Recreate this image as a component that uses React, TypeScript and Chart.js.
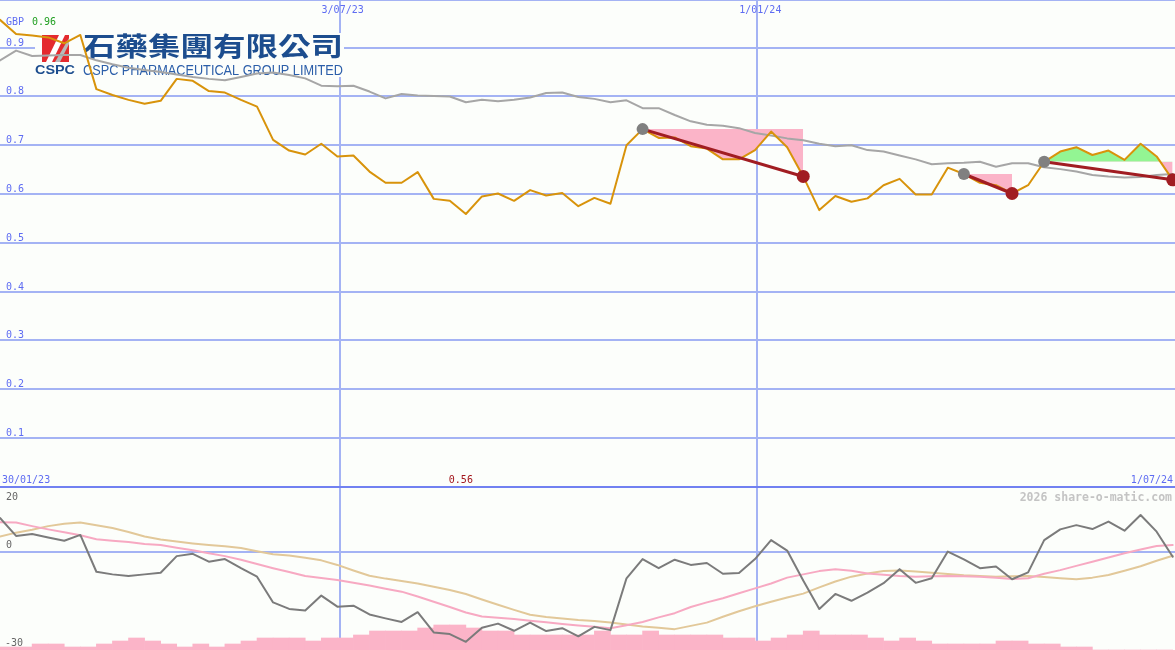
import React, { useEffect, useRef } from "react";
import { Chart, registerables } from "chart.js";

Chart.register(...registerables);

const WIDTH = 1175;
const HEIGHT = 650;

// ---- axis / label data ----
const FIRST_WEEK_DAY = 6; // days after 30/01/23 of the first weekly point
const LAST_DAY = 518;
const DATE_LABELS = ["30/01/23", "3/07/23", "1/01/24", "1/07/24"];
const DATE_DAYS = [0, 154, 336, 518];
const PRICE_TICKS = [0.1, 0.2, 0.3, 0.4, 0.5, 0.6, 0.7, 0.8, 0.9];
const IND_TICKS = [20, 0, -30];
const CURRENCY = "GBP";
const WATERMARK = "2026 share-o-matic.com";
const LOGO_CN = "石藥集團有限公司";
const LOGO_EN = "CSPC PHARMACEUTICAL GROUP LIMITED";
const LOGO_SHORT = "CSPC";

// ---- series (weekly) ----
const PRICE = [
  0.957, 0.928, 0.925, 0.921, 0.909, 0.926, 0.815, 0.803, 0.793, 0.785,
  0.791, 0.836, 0.832, 0.811, 0.808, 0.793, 0.779, 0.711, 0.689, 0.681,
  0.703, 0.677, 0.679, 0.646, 0.623, 0.623, 0.645, 0.59, 0.586, 0.559,
  0.595, 0.601, 0.586, 0.608, 0.597, 0.602, 0.575, 0.592, 0.58, 0.7,
  0.733, 0.715, 0.716, 0.698, 0.693, 0.671, 0.671, 0.69, 0.728, 0.696,
  0.636, 0.567, 0.596, 0.584, 0.591, 0.618, 0.631, 0.599, 0.599, 0.654,
  0.641, 0.623, 0.618, 0.601, 0.618, 0.666, 0.687, 0.696, 0.68, 0.689,
  0.67, 0.703, 0.677, 0.629,
];

const MOVING_AVG = [
  0.874, 0.894, 0.883, 0.884, 0.885, 0.885, 0.874, 0.866, 0.859, 0.854,
  0.85, 0.845, 0.84, 0.836, 0.833, 0.84, 0.847, 0.849, 0.844, 0.837,
  0.822, 0.821, 0.822, 0.81, 0.796, 0.805, 0.802, 0.801, 0.8, 0.788,
  0.793, 0.79, 0.793, 0.798, 0.807, 0.808, 0.799, 0.795, 0.788, 0.792,
  0.776, 0.776, 0.762, 0.749, 0.742, 0.74, 0.735, 0.725, 0.72, 0.714,
  0.71, 0.703, 0.698, 0.7, 0.69, 0.687, 0.679, 0.671, 0.661, 0.663,
  0.664, 0.666, 0.656, 0.663, 0.663, 0.655, 0.651, 0.646, 0.639, 0.636,
  0.634, 0.635, 0.639, 0.641,
];

// [start week, end week] of trend annotations
const TRENDS = [
  [40, 50],
  [60, 63],
  [65, 73],
];

const MOMENTUM = [
  10.5, 5.0, 5.6, 4.5, 3.5, 5.3, -6.0, -6.8, -7.3, -6.8,
  -6.3, -1.2, -0.5, -2.9, -2.1, -4.9, -7.5, -15.4, -17.4, -17.9,
  -13.3, -16.7, -16.4, -19.1, -20.3, -21.4, -18.4, -24.6, -25.1, -27.5,
  -23.2, -21.9, -24.1, -21.6, -24.2, -23.3, -25.8, -22.9, -23.9, -8.0,
  -2.1, -4.9, -2.3, -3.9, -3.3, -6.6, -6.4, -2.1, 3.7, 0.5,
  -8.7, -17.4, -12.8, -14.9, -12.4, -9.5, -5.2, -9.4, -8.0, 0.2,
  -2.2, -4.9, -4.4, -8.3, -6.2, 3.7, 7.0, 8.3, 7.1, 9.4,
  6.6, 11.4, 6.3, -1.4,
];

const SIGNAL_FAST = [
  9.2, 9.1, 8.0, 7.0, 6.1, 5.2, 4.0, 3.5, 3.1, 2.5,
  2.2, 1.4, 0.6, -0.3, -1.2, -2.3, -3.6, -4.9, -6.1, -7.3,
  -7.9, -8.5, -9.4, -10.2, -11.2, -12.1, -13.6, -15.2, -16.8, -18.5,
  -19.7, -20.1, -20.5, -21.0, -21.5, -22.0, -22.5, -22.9, -23.3, -22.4,
  -21.4, -20.0, -18.7, -16.8, -15.4, -14.1, -12.6, -11.1, -9.6, -7.8,
  -6.8, -5.8, -5.2, -5.7, -6.5, -6.9, -7.3, -7.5, -7.4, -7.3,
  -7.4, -7.5, -7.8, -8.2, -8.0, -6.6, -5.5, -4.2, -2.9, -1.6,
  -0.3, 0.8, 1.9, 2.2,
];

const SIGNAL_SLOW = [
  4.8, 6.0, 6.9, 8.0, 8.7, 9.1, 8.3, 7.4, 6.2, 4.8,
  3.9, 3.3, 2.7, 2.2, 1.8, 1.3, 0.3, -0.6, -1.0, -1.7,
  -2.5, -3.9, -5.6, -7.2, -8.1, -8.8, -9.6, -10.6, -11.6, -12.8,
  -14.5, -16.1, -17.7, -19.2, -19.9, -20.3, -20.8, -21.1, -21.6, -22.2,
  -22.8, -23.2, -23.6, -22.6, -21.6, -19.8, -18.1, -16.6, -15.2, -13.9,
  -12.7, -10.8, -9.0, -7.5, -6.5, -5.8, -5.6, -5.9, -6.3, -6.7,
  -7.1, -7.3, -7.5, -7.4, -7.3, -7.6, -8.0, -8.3, -7.8, -7.0,
  -5.7, -4.3, -2.6, -1.1,
];

// weekly volume (relative units), one bar between consecutive weekly points
const VOLUME = [
  3, 3, 6, 6, 3, 3, 6, 9, 12, 9,
  6, 3, 6, 3, 6, 9, 12, 12, 12, 9,
  12, 12, 15, 19, 19, 19, 22, 25, 25, 22,
  19, 19, 15, 15, 15, 15, 15, 19, 15, 15,
  19, 15, 15, 15, 15, 12, 12, 9, 12, 15,
  19, 15, 15, 15, 12, 9, 12, 9, 6, 6,
  6, 6, 9, 9, 6, 6, 3, 3, 0, 0,
  0, 0, 0,
];

// ---- axis ranges ----
const PRICE_MIN = -0.3348;
const PRICE_MAX = 0.9977;
const IND_MIN = -30;
const IND_MAX = 169.4;
const VOL_MAX = 650;

// ---- colours ----
const BG = "#fcfefb";
const GRID = "#a4b3f4";
const AXIS = "#7181f1";
const LABEL = "#5e6cf2";
const ORANGE = "#d8930b";
const MA_GRAY = "#a6a6a6";
const TREND_RED = "#a11d22";
const DOT_GRAY = "#808080";
const FILL_PINK = "#fbb4c8";
const FILL_GREEN = "#93f593";
const MOM_GRAY = "#7b7b7b";
const SIG_PINK = "#f7a9c2";
const SIG_TAN = "#e2c899";
const VOL_PINK = "#fbb4c8";
const LOW_RED = "#a3161c";
const HIGH_GREEN = "#22a022";
const MARK_GRAY = "#c4c4c4";
const IND_LABEL = "#666666";
const LOGO_RED = "#e42a2e";
const LOGO_BLUE = "#1c4d8e";
const LOGO_BLUE2 = "#2b5ea9";

const MONO = "'DejaVu Sans Mono', monospace";

const weekDay = (k: number) => FIRST_WEEK_DAY + 7 * k;
const pts = (arr: number[], from = 0) => arr.map((v, i) => ({ x: weekDay(from + i), y: v }));

function fitText(ctx: CanvasRenderingContext2D, text: string, x: number, y: number, width: number, font: string, color: string) {
  ctx.save();
  ctx.font = font;
  const m = ctx.measureText(text).width || 1;
  ctx.translate(x, y);
  ctx.scale(width / m, 1);
  ctx.fillStyle = color;
  ctx.textAlign = "left";
  ctx.textBaseline = "alphabetic";
  ctx.fillText(text, 0, 0);
  ctx.restore();
}

const somPlugin = {
  id: "som",
  beforeDatasetsDraw(chart: any) {
    const { ctx, scales } = chart;
    const xs = scales.x;
    const yP = scales.yP;
    const yI = scales.yI;
    ctx.save();
    ctx.fillStyle = GRID;
    ctx.fillRect(0, 0, WIDTH, 1);
    PRICE_TICKS.forEach((v) => {
      const y = Math.round(yP.getPixelForValue(v));
      ctx.fillRect(0, y - 1, WIDTH, 2);
    });
    const y0 = Math.round(yI.getPixelForValue(0));
    ctx.fillRect(0, y0 - 1, WIDTH, 2);
    DATE_DAYS.forEach((d) => {
      if (d <= xs.min || d >= xs.max) return;
      const x = Math.round(xs.getPixelForValue(d));
      ctx.fillRect(x - 1, 0, 2, HEIGHT);
    });
    ctx.fillStyle = AXIS;
    const yb = Math.round(yP.getPixelForValue(0));
    ctx.fillRect(0, yb - 1, WIDTH, 2);

    // logo
    ctx.fillStyle = BG;
    ctx.fillRect(35, 33, 309, 44);
    ctx.fillStyle = LOGO_RED;
    ctx.fillRect(42, 35, 27, 27);
    ctx.fillStyle = "#ffffff";
    ctx.beginPath();
    ctx.moveTo(46, 62); ctx.lineTo(52, 62); ctx.lineTo(65, 35); ctx.lineTo(59, 35);
    ctx.closePath(); ctx.fill();
    ctx.fillStyle = "#b9b9b9";
    ctx.beginPath();
    ctx.moveTo(55, 62); ctx.lineTo(60, 62); ctx.lineTo(69, 44); ctx.lineTo(69, 38);
    ctx.closePath(); ctx.fill();
    fitText(ctx, LOGO_CN, 83, 55.5, 260, "bold 26px 'Noto Sans CJK TC', sans-serif", LOGO_BLUE);
    fitText(ctx, LOGO_SHORT, 35, 73.5, 40, "bold 13px 'Liberation Sans', Arial, sans-serif", LOGO_BLUE);
    fitText(ctx, LOGO_EN, 83, 74.5, 260, "15px 'Liberation Sans', Arial, sans-serif", LOGO_BLUE2);
    ctx.restore();
  },
  afterDatasetsDraw(chart: any) {
    const { ctx, scales } = chart;
    const xs = scales.x;
    const yP = scales.yP;
    const yI = scales.yI;
    const yTop = Math.round(yP.getPixelForValue(0));
    ctx.save();
    ctx.font = `10px ${MONO}`;
    ctx.textBaseline = "alphabetic";
    ctx.fillStyle = LABEL;
    ctx.textAlign = "left";
    PRICE_TICKS.forEach((v) => {
      const y = Math.round(yP.getPixelForValue(v));
      ctx.fillText(v.toFixed(1), 6, y - 2);
    });
    ctx.fillText(CURRENCY, 6, 25);
    const hi = Math.max(...PRICE);
    const lo = Math.min(...PRICE);
    ctx.fillStyle = HIGH_GREEN;
    ctx.fillText(hi.toFixed(2), 32, 25);

    ctx.fillStyle = LABEL;
    DATE_DAYS.forEach((d, i) => {
      const lab = DATE_LABELS[i];
      if (d <= xs.min) {
        ctx.textAlign = "left";
        ctx.fillText(lab, 2, yTop - 4);
      } else if (d >= xs.max) {
        ctx.textAlign = "right";
        ctx.fillText(lab, WIDTH - 2, yTop - 4);
      } else {
        ctx.textAlign = "center";
        ctx.fillText(lab, xs.getPixelForValue(d) + 3, 13);
      }
    });

    const loIdx = PRICE.indexOf(lo);
    ctx.fillStyle = LOW_RED;
    ctx.textAlign = "center";
    ctx.fillText(lo.toFixed(2), xs.getPixelForValue(weekDay(loIdx)) - 5, yTop - 4);

    ctx.fillStyle = IND_LABEL;
    ctx.textAlign = "left";
    IND_TICKS.forEach((v) => {
      const p = yI.getPixelForValue(v);
      const y = Math.max(p - 4, yTop + 12.5);
      ctx.fillText(String(v), v < 0 ? 5 : 6, y);
    });

    ctx.font = `bold 11.5px ${MONO}`;
    ctx.fillStyle = MARK_GRAY;
    ctx.textAlign = "right";
    ctx.fillText(WATERMARK, WIDTH - 3, yTop + 13.5);
    ctx.restore();
  },
};

export default function App() {
  const ref = useRef<HTMLCanvasElement | null>(null);

  useEffect(() => {
    const canvas = ref.current;
    if (!canvas) return;

    const trendFills = TRENDS.map(([s, e]) => ({
      type: "line" as const,
      data: pts(PRICE.slice(s, e + 1), s),
      yAxisID: "yP",
      borderColor: "rgba(0,0,0,0)",
      borderWidth: 0,
      pointRadius: 0,
      fill: { target: { value: PRICE[s] }, above: FILL_GREEN, below: FILL_PINK },
      order: 5,
    }));

    const trendLines = TRENDS.map(([s, e]) => ({
      type: "line" as const,
      data: [
        { x: weekDay(s), y: PRICE[s] },
        { x: weekDay(e), y: PRICE[e] },
      ],
      yAxisID: "yP",
      borderColor: TREND_RED,
      borderWidth: 3,
      pointRadius: [6, 6.5],
      pointBackgroundColor: [DOT_GRAY, TREND_RED],
      pointBorderWidth: 0,
      fill: false,
      order: 0,
    }));

    const datasets: any[] = [
      ...trendLines,
      { type: "line", data: pts(PRICE), yAxisID: "yP", borderColor: ORANGE, borderWidth: 2, fill: false, order: 2 },
      { type: "line", data: pts(MOVING_AVG), yAxisID: "yP", borderColor: MA_GRAY, borderWidth: 2, fill: false, order: 3 },
      ...trendFills,
      { type: "line", data: pts(MOMENTUM), yAxisID: "yI", borderColor: MOM_GRAY, borderWidth: 2, fill: false, order: 6 },
      { type: "line", data: pts(SIGNAL_FAST), yAxisID: "yI", borderColor: SIG_PINK, borderWidth: 2, fill: false, order: 7 },
      { type: "line", data: pts(SIGNAL_SLOW), yAxisID: "yI", borderColor: SIG_TAN, borderWidth: 2, fill: false, order: 8 },
      {
        type: "bar",
        data: VOLUME.map((v, k) => ({ x: weekDay(k) + 3.5, y: v })),
        yAxisID: "yV",
        backgroundColor: VOL_PINK,
        borderWidth: 0,
        barPercentage: 1,
        categoryPercentage: 1,
        order: 9,
      },
    ];

    const chart = new Chart(canvas, {
      type: "line",
      data: { datasets },
      options: {
        responsive: false,
        maintainAspectRatio: false,
        animation: false,
        devicePixelRatio: 1,
        events: [],
        layout: { padding: 0, autoPadding: false },
        elements: {
          point: { radius: 0 },
          line: { tension: 0, borderJoinStyle: "round", borderCapStyle: "round" },
        },
        plugins: {
          legend: { display: false },
          tooltip: { enabled: false },
          title: { display: false },
        },
        scales: {
          x: { type: "linear", min: FIRST_WEEK_DAY, max: LAST_DAY, display: false, offset: false },
          yP: { type: "linear", position: "left", min: PRICE_MIN, max: PRICE_MAX, display: false },
          yI: { type: "linear", position: "left", min: IND_MIN, max: IND_MAX, display: false },
          yV: { type: "linear", position: "right", min: 0, max: VOL_MAX, display: false },
        },
      } as any,
      plugins: [somPlugin as any],
    });

    return () => chart.destroy();
  }, []);

  return (
    <div
      style={{
        position: "fixed",
        left: 0,
        top: 0,
        width: WIDTH,
        height: HEIGHT,
        background: BG,
        overflow: "hidden",
      }}
    >
      <canvas
        ref={ref}
        width={WIDTH}
        height={HEIGHT}
        style={{ position: "absolute", left: 0, top: 0, width: WIDTH, height: HEIGHT, display: "block" }}
      />
    </div>
  );
}
